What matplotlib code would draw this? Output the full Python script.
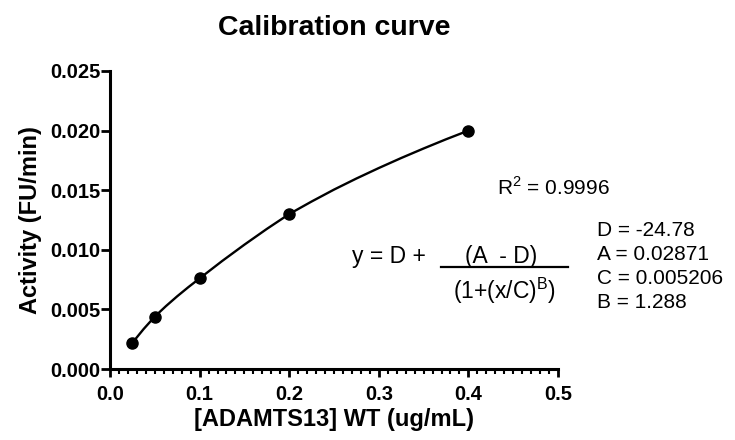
import matplotlib
matplotlib.use("Agg")
from matplotlib import pyplot as plt
from matplotlib.ticker import MultipleLocator

plt.rcParams['font.family'] = ['Liberation Sans', 'DejaVu Sans']
plt.rcParams['mathtext.fontset'] = 'custom'
plt.rcParams['mathtext.rm'] = 'Liberation Sans'

# measured points
conc = [0.025, 0.05, 0.1, 0.2, 0.4]
activity = [0.0022, 0.0044, 0.0076, 0.0130, 0.0200]

# fitted curve
fit_x = [0.025, 0.0375, 0.05, 0.0625, 0.075, 0.0875, 0.1, 0.125, 0.15, 0.175, 0.2,
         0.225, 0.25, 0.275, 0.3, 0.325, 0.35, 0.375, 0.4]
fit_y = [0.0022, 0.00335, 0.0044, 0.00528, 0.0061, 0.00687, 0.0076, 0.00905, 0.01043, 0.01175, 0.0130,
         0.01405, 0.01505, 0.01598, 0.01686, 0.0177, 0.0185, 0.01927, 0.0200]

x_ticks = [0.0, 0.1, 0.2, 0.3, 0.4, 0.5]
y_ticks = [0.000, 0.005, 0.010, 0.015, 0.020, 0.025]

params = ["D = -24.78", "A = 0.02871", "C = 0.005206", "B = 1.288"]

W, H = 735, 440
fig = plt.figure(figsize=(7.35, 4.4), dpi=100)
ax = fig.add_axes([110 / W, 1 - 369 / H, 448 / W, 298 / H])

ax.plot(fit_x, fit_y, color='black', linewidth=1.7)
ax.plot(conc, activity, linestyle='none', marker='o', markersize=8, color='black')

ax.set_xlim(0, 0.5)
ax.set_ylim(0, 0.025)
ax.set_xticks(x_ticks)
ax.set_xticklabels(["{:.1f}".format(v) for v in x_ticks])
ax.set_yticks(y_ticks)
ax.set_yticklabels(["{:.3f}".format(v) for v in y_ticks])
ax.xaxis.set_minor_locator(MultipleLocator(0.01))

for s in ['top', 'right']:
    ax.spines[s].set_visible(False)
for s in ['left', 'bottom']:
    ax.spines[s].set_linewidth(2.2)

ax.tick_params(axis='y', which='major', direction='out', length=6.5, width=2, labelsize=14.5, pad=0.5)
ax.tick_params(axis='x', which='major', direction='out', length=5.5, width=2, labelsize=14.5, pad=6)
ax.tick_params(axis='x', which='minor', direction='out', length=3.5, width=1.5)
for lab in ax.get_xticklabels() + ax.get_yticklabels():
    lab.set_fontweight('bold')

ax.set_xlabel("[ADAMTS13] WT (ug/mL)", fontsize=17, fontweight='bold', labelpad=3)
ax.set_ylabel("Activity (FU/min)", fontsize=17, fontweight='bold', labelpad=6)
ax.set_title("Calibration curve", fontsize=20.5, fontweight='bold', pad=26)


def fx(px):
    return px / W


def fy(py):
    return 1 - py / H


fs = 15
eq_fs = 16.5
fig.text(fx(497), fy(187), r"R$^2$ = 0.9996", fontsize=fs, va='center', ha='left')
fig.text(fx(352), fy(256), "y = D +", fontsize=eq_fs, va='center', ha='left')
fig.text(fx(501), fy(256), "(A  - D)", fontsize=eq_fs, va='center', ha='center')
fig.add_artist(plt.Line2D([fx(441), fx(568)], [fy(267), fy(267)], color='black', linewidth=1.6))
fig.text(fx(504), fy(291), r"(1+(x/C)$^\mathregular{B}$)", fontsize=eq_fs, va='center', ha='center')
for i, p in enumerate(params):
    fig.text(fx(597), fy(230 + 24 * i), p, fontsize=fs, va='center', ha='left')

fig.savefig("out.png", dpi=100)
